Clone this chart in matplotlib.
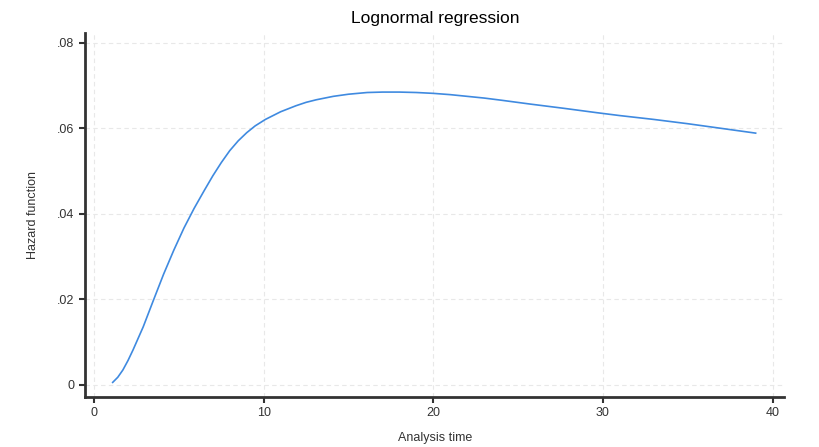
import matplotlib
matplotlib.use("Agg")
from matplotlib import pyplot as plt

# values
analysis_time = [1.1, 1.4, 1.7, 2.0, 2.3, 2.9, 3.5, 4.1, 4.7, 5.3, 5.9, 6.5,
                 7.0, 7.5, 8.0, 8.5, 9.0, 9.5, 10.1, 11.0, 11.9, 12.5, 13.1,
                 14.1, 15.0, 16.1, 17.0, 18.0, 19.0, 20.0, 21.0, 22.0, 23.0,
                 24.0, 25.7, 27.7, 29.6, 31.0, 33.0, 35.0, 37.0, 39.0]
hazard = [0.0006, 0.0018, 0.0035, 0.0057, 0.0082, 0.0136, 0.0198, 0.0259,
          0.0315, 0.0367, 0.0413, 0.0455, 0.0489, 0.0520, 0.0548, 0.0571,
          0.0590, 0.0606, 0.0621, 0.0639, 0.0653, 0.0661, 0.0667, 0.0675,
          0.0680, 0.0684, 0.0685, 0.0685, 0.0684, 0.0682, 0.0679, 0.0675,
          0.0671, 0.0666, 0.0657, 0.0647, 0.0637, 0.0630, 0.0621, 0.0611,
          0.0600, 0.0589]
x_ticks = [0, 10, 20, 30, 40]
y_ticks = [0, 0.02, 0.04, 0.06, 0.08]
y_tick_labels = ["0", ".02", ".04", ".06", ".08"]

plt.rcParams["font.family"] = ["Liberation Sans", "DejaVu Sans"]

fig = plt.figure(figsize=(8.2, 4.47), dpi=100)
ax = fig.add_axes([0.1037, 0.112, 0.853, 0.814])

ax.plot(analysis_time, hazard, color="#3f8ae0", lw=1.2)

ax.set_xlim(-0.53, 40.7)
ax.set_ylim(-0.0028, 0.0823)
ax.set_xticks(x_ticks)
ax.set_yticks(y_ticks)
ax.set_yticklabels(y_tick_labels)
ax.grid(True, ls=(0, (4, 3)), color="#e8e8e8", lw=0.8)

for side in ["top", "right"]:
    ax.spines[side].set_visible(False)
ax.spines["left"].set_linewidth(2)
ax.spines["bottom"].set_linewidth(2)
ax.spines["left"].set_color("#333333")
ax.spines["bottom"].set_color("#333333")
ax.tick_params(direction="out", length=4, width=1.5, color="#333333",
               labelsize=9, labelcolor="#333333")

ax.set_title("Lognormal regression", fontsize=12.5, pad=7)
ax.set_xlabel("Analysis time", fontsize=9, labelpad=9, color="#333333")
ax.set_ylabel("Hazard function", fontsize=9, labelpad=13, color="#333333")

fig.savefig("out.png")
